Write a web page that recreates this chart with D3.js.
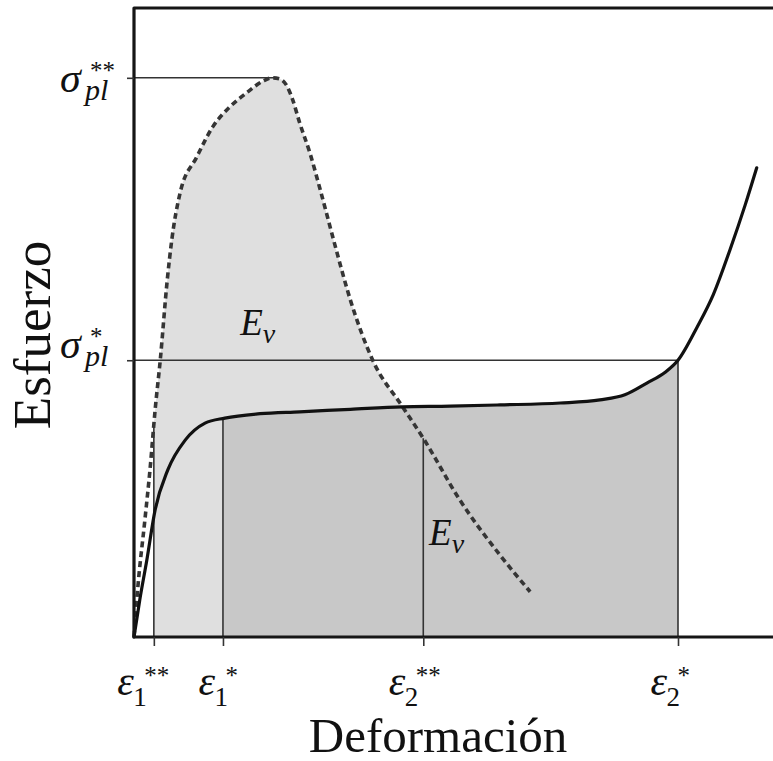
<!DOCTYPE html>
<html>
<head>
<meta charset="utf-8">
<script src="https://d3js.org/d3.v7.min.js"></script>
<style>
  body { margin: 0; background: #fff; }
  svg { display: block; }
</style>
</head>
<body>
<div id="container"></div>
<script>
// stress-strain curves (arbitrary units, 0-100 on both axes)
var dashedX = [0, 0.6, 1.7, 2.5, 3.3, 4.1, 5.2, 5.9, 7.2, 9.8, 12.3, 15.0, 17.7, 20.2, 21.6, 22.8, 23.9, 24.8, 25.9, 27.5, 29.1, 31.4, 33.8, 37.3, 41.9, 45.2, 50.9, 57.2, 61.9];
var dashedY = [0, 7.9, 18.6, 26.6, 36.1, 44.0, 56.8, 63.1, 70.6, 76.3, 81.1, 84.3, 86.6, 88.4, 88.9, 88.7, 87.6, 85.4, 81.7, 76.9, 71.1, 62.3, 53.6, 44.0, 36.7, 31.6, 21.8, 13.0, 7.2];

var solidX = [0, 0.9, 2.0, 3.3, 5.3, 8.0, 11.1, 14.2, 19.7, 25.9, 33.8, 41.9, 49.4, 57.2, 66.6, 72.8, 76.7, 80.2, 83.0, 85.0, 88.0, 90.5, 93.1, 95.5, 97.3];
var solidY = [0, 5.9, 12.2, 20.2, 26.6, 31.3, 34.0, 34.8, 35.5, 35.8, 36.2, 36.6, 36.7, 36.9, 37.2, 37.7, 38.5, 40.4, 42.1, 44.0, 49.3, 54.4, 61.5, 68.7, 74.6];

// marked strains (x axis) and the curve each drop line goes up to
var strainTicks = [3.1, 13.9, 45.2, 85.0];
var strainSub = ["1", "1", "2", "2"];
var strainSup = ["**", "*", "**", "*"];
var strainCurve = ["dashed", "solid", "dashed", "solid"];

// marked stresses (y axis) and where the guide line stops
var stressTicks = [88.9, 44.0];
var stressSup = ["**", "*"];
var stressEndX = [22.3, 85.0];

// energy labels
var energyX = [16.6, 46.1];
var energyY = [48.0, 14.6];

// fills: light grey under dashed curve from eps1**, dark grey under solid curve eps1*..eps2*
var lightFrom = 3.1;
var darkFrom = 13.9, darkTo = 85.0;

var W = 773, H = 761;
var mathFont = "'Liberation Serif', serif";

var svg = d3.select("#container").append("svg")
  .attr("width", W).attr("height", H);

var x = d3.scaleLinear().domain([0, 100]).range([134, 774]);
var y = d3.scaleLinear().domain([0, 100]).range([637, 8]);

var dashed = dashedX.map(function(d, i) { return {x: d, y: dashedY[i]}; });
var solid = solidX.map(function(d, i) { return {x: d, y: solidY[i]}; });
var curves = {dashed: dashed, solid: solid};

// linear lookup of a curve value at a given strain
function yAt(pts, xv) {
  for (var i = 1; i < pts.length; i++) {
    if (pts[i].x >= xv) {
      var t = (xv - pts[i-1].x) / (pts[i].x - pts[i-1].x);
      return pts[i-1].y + t * (pts[i].y - pts[i-1].y);
    }
  }
  return pts[pts.length - 1].y;
}

var area = d3.area()
  .x(function(d) { return x(d.x); })
  .y0(y(0))
  .y1(function(d) { return y(d.y); })
  .curve(d3.curveMonotoneX);

var line = d3.line()
  .x(function(d) { return x(d.x); })
  .y(function(d) { return y(d.y); })
  .curve(d3.curveMonotoneX);

// light grey area
var lightPts = [{x: lightFrom, y: yAt(dashed, lightFrom)}]
  .concat(dashed.filter(function(d) { return d.x > lightFrom; }));
svg.append("path")
  .attr("d", area(lightPts))
  .attr("fill", "#dfdfdf");

// dark grey area
var darkPts = [{x: darkFrom, y: yAt(solid, darkFrom)}]
  .concat(solid.filter(function(d) { return d.x > darkFrom && d.x < darkTo; }))
  .concat([{x: darkTo, y: yAt(solid, darkTo)}]);
svg.append("path")
  .attr("d", area(darkPts))
  .attr("fill", "#c8c8c8");

// drop lines from the axis up to the curves
svg.append("g").selectAll("line")
  .data(strainTicks)
  .enter().append("line")
    .attr("x1", function(d) { return x(d); })
    .attr("x2", function(d) { return x(d); })
    .attr("y1", y(0))
    .attr("y2", function(d, i) { return y(yAt(curves[strainCurve[i]], d)); })
    .attr("stroke", "#333")
    .attr("stroke-width", 1.6);

// horizontal stress lines
svg.append("g").selectAll("line")
  .data(stressTicks)
  .enter().append("line")
    .attr("x1", x(0))
    .attr("x2", function(d, i) { return x(stressEndX[i]); })
    .attr("y1", function(d) { return y(d); })
    .attr("y2", function(d) { return y(d); })
    .attr("stroke", "#333")
    .attr("stroke-width", 1.6);

// curves
svg.append("path")
  .attr("d", line(dashed))
  .attr("fill", "none")
  .attr("stroke", "#353535")
  .attr("stroke-width", 3.6)
  .attr("stroke-dasharray", "6,4");

svg.append("path")
  .attr("d", line(solid))
  .attr("fill", "none")
  .attr("stroke", "#111")
  .attr("stroke-width", 3.2)
  .attr("stroke-linecap", "round");

// frame: left, top and bottom
svg.append("path")
  .attr("d", "M" + x(100) + "," + y(100) + "H" + x(0) + "V" + y(0) + "H" + x(100))
  .attr("fill", "none")
  .attr("stroke", "#161616")
  .attr("stroke-width", 3.2)
  .attr("stroke-linejoin", "round");

// x axis ticks and labels
var xAxis = svg.append("g")
  .attr("transform", "translate(0," + y(0) + ")")
  .call(d3.axisBottom(x).tickValues(strainTicks).tickSize(9).tickSizeOuter(0).tickFormat(""));
xAxis.select(".domain").remove();
xAxis.selectAll(".tick line").attr("stroke", "#333").attr("stroke-width", 1.6);
xAxis.selectAll(".tick text").remove();

var strainDx = [-37, -25, -35, -28];
xAxis.selectAll(".tick").each(function(d, i) {
  var g = d3.select(this).attr("text-anchor", "start");
  var dx = strainDx[i];
  g.append("text")
    .attr("x", dx).attr("y", 58)
    .attr("font-family", mathFont).attr("font-style", "italic")
    .attr("font-size", 42).attr("fill", "#111")
    .text("ε");
  g.append("text")
    .attr("x", dx + 16).attr("y", 69)
    .attr("font-family", mathFont)
    .attr("font-size", 27).attr("fill", "#111")
    .text(strainSub[i]);
  g.append("text")
    .attr("x", dx + 27).attr("y", 47)
    .attr("font-family", mathFont)
    .attr("font-size", 25).attr("fill", "#111")
    .text(strainSup[i]);
});

// y axis ticks and labels
var yAxis = svg.append("g")
  .attr("transform", "translate(" + x(0) + ",0)")
  .call(d3.axisLeft(y).tickValues(stressTicks).tickSize(7).tickSizeOuter(0).tickFormat(""));
yAxis.select(".domain").remove();
yAxis.selectAll(".tick line").attr("stroke", "#333").attr("stroke-width", 1.6);
yAxis.selectAll(".tick text").remove();

var stressDy = [14, -3];
yAxis.selectAll(".tick").each(function(d, i) {
  var g = d3.select(this).attr("text-anchor", "start");
  var dy = stressDy[i];
  g.append("text")
    .attr("x", -74).attr("y", dy)
    .attr("font-family", mathFont).attr("font-style", "italic")
    .attr("font-size", 42).attr("fill", "#111")
    .text("σ");
  g.append("text")
    .attr("x", -49).attr("y", dy + 8)
    .attr("font-family", mathFont).attr("font-style", "italic")
    .attr("font-size", 30).attr("fill", "#111")
    .text("pl");
  g.append("text")
    .attr("x", -44).attr("y", dy - 13)
    .attr("font-family", mathFont)
    .attr("font-size", 25).attr("fill", "#111")
    .text(stressSup[i]);
});

// energy labels E_v
var ev = svg.append("g");
energyX.forEach(function(ex, i) {
  var t = ev.append("text")
    .attr("x", x(ex)).attr("y", y(energyY[i]))
    .attr("font-family", mathFont).attr("font-style", "italic")
    .attr("font-size", 37).attr("fill", "#111");
  t.append("tspan").text("E");
  t.append("tspan").attr("font-size", 28).attr("dy", 8).text("v");
});

// axis titles
svg.append("text")
  .attr("x", 438).attr("y", 752)
  .attr("text-anchor", "middle")
  .attr("font-family", "'Liberation Serif', 'Times New Roman', serif")
  .attr("font-size", 49).attr("fill", "#111")
  .text("Deformación");

svg.append("text")
  .attr("transform", "translate(50,335) rotate(-90)")
  .attr("text-anchor", "middle")
  .attr("font-family", "'Liberation Serif', 'Times New Roman', serif")
  .attr("font-size", 53).attr("fill", "#111")
  .text("Esfuerzo");
</script>
</body>
</html>
